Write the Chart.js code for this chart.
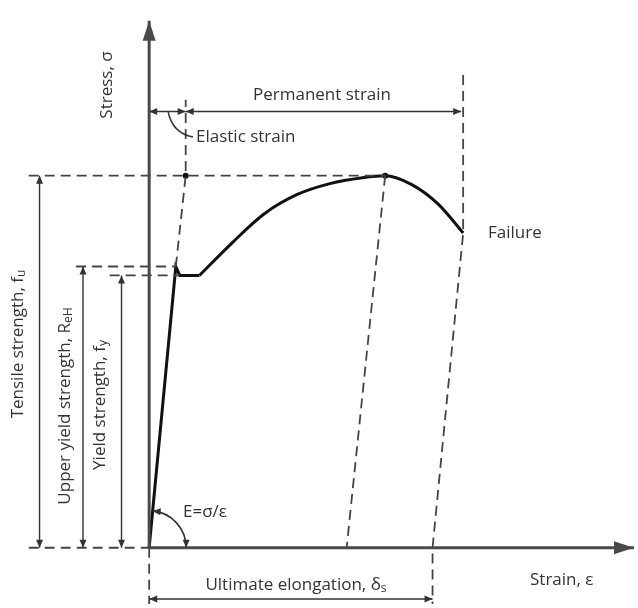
<!DOCTYPE html>
<html>
<head>
<meta charset="utf-8">
<script src="https://cdn.jsdelivr.net/npm/chart.js@4/dist/chart.umd.min.js"></script>
<style>
  body { margin: 0; background: #fff; }
  canvas { display: block; }
</style>
</head>
<body>
<canvas id="chart" width="638" height="608"></canvas>
<script>
// stress-strain curve, schematic units (strain on x, stress on y)
const elasticStrainPts = [0, 27, 31, 51]
const elasticStressPts = [0, 285, 276, 276]
const hardeningStrain = [51, 83, 116, 150, 183, 216, 239, 266, 293, 318]
const hardeningStress = [276, 308, 338, 358, 369, 375, 377, 368, 348, 319]

// characteristic values
const tensileStrength = 377
const upperYield = 285
const yieldStrength = 276
const strainAtTensile = 239
const elasticStrain = 37
const failureStrain = 318
const failureStress = 319
const residualAtTensile = 200
const ultimateElongation = 287

// layout of guides (schematic units)
const view = { xMin: -147, xMax: 491, yMin: -57, yMax: 551 }
const guide = {
  leftEnd: -122, upperLeft: -74, lowerLeft: -40,
  tensileArrowX: -111, upperArrowX: -67, yieldArrowX: -28,
  strainArrowY: 442, elongArrowY: -52,
  elasticTop: 454, failureTop: 479, yAxisTop: 534
}

const textColor = '#333'
const mainFont = '17px "Open Sans"'
const subFont = '12px "Open Sans"'

const pts = (xs, ys) => xs.map((x, i) => ({ x, y: ys[i] }))
const line = (data, width, color, extra) => ({
  data, showLine: true, borderColor: color, backgroundColor: color,
  borderWidth: width, pointRadius: 0, tension: 0, clip: false, ...extra
})
const dashed = data => line(data, 1.8, '#444', { borderDash: [10, 6] })
const arrow = (data, heads) => line(data, 1.4, '#333', { arrow: heads, head: [8, 3.5] })

const datasets = [
  // axes
  line([{ x: 0, y: 0 }, { x: 0, y: guide.yAxisTop }], 3, '#4a4a4a', { arrow: 'end', head: [20, 6.5] }),
  line([{ x: 0, y: 0 }, { x: view.xMax, y: 0 }], 3, '#4a4a4a', { arrow: 'end', head: [20, 6.5] }),

  // guide lines
  dashed([{ x: guide.leftEnd, y: tensileStrength }, { x: strainAtTensile, y: tensileStrength }]),
  dashed([{ x: guide.upperLeft, y: upperYield }, { x: elasticStrainPts[1], y: upperYield }]),
  dashed([{ x: guide.lowerLeft, y: yieldStrength }, { x: elasticStrainPts[2], y: yieldStrength }]),
  dashed([{ x: guide.leftEnd, y: 0 }, { x: 0, y: 0 }]),
  dashed([{ x: elasticStrainPts[1], y: upperYield }, { x: elasticStrain, y: tensileStrength }, { x: elasticStrain, y: guide.elasticTop }]),
  dashed([{ x: strainAtTensile, y: tensileStrength }, { x: residualAtTensile, y: 0 }]),
  dashed([{ x: failureStrain, y: guide.failureTop }, { x: failureStrain, y: failureStress }, { x: ultimateElongation, y: 0 }, { x: ultimateElongation, y: view.yMin }]),
  dashed([{ x: 0, y: 0 }, { x: 0, y: view.yMin }]),

  // dimension arrows
  arrow([{ x: guide.tensileArrowX, y: tensileStrength }, { x: guide.tensileArrowX, y: 0 }], 'both'),
  arrow([{ x: guide.upperArrowX, y: upperYield }, { x: guide.upperArrowX, y: 0 }], 'both'),
  arrow([{ x: guide.yieldArrowX, y: yieldStrength }, { x: guide.yieldArrowX, y: 0 }], 'both'),
  arrow([{ x: 0, y: guide.strainArrowY }, { x: elasticStrain, y: guide.strainArrowY }], 'both'),
  arrow([{ x: elasticStrain, y: guide.strainArrowY }, { x: failureStrain - 2, y: guide.strainArrowY }], 'both'),
  arrow([{ x: 0, y: guide.elongArrowY }, { x: ultimateElongation, y: guide.elongArrowY }], 'both'),

  // the curve
  line(pts(elasticStrainPts, elasticStressPts), 3, '#111'),
  line(pts(hardeningStrain, hardeningStress), 3, '#111', { tension: 0.4, cubicInterpolationMode: 'monotone' }),

  // markers at tensile strength
  { data: [{ x: elasticStrain, y: tensileStrength }, { x: strainAtTensile, y: tensileStrength }],
    showLine: false, pointRadius: 3, pointBackgroundColor: '#111', pointBorderWidth: 0, clip: false }
]

const arrowHeads = {
  id: 'arrowHeads',
  afterDatasetsDraw(chart) {
    const ctx = chart.ctx
    chart.data.datasets.forEach((ds, i) => {
      if (!ds.arrow) return
      const el = chart.getDatasetMeta(i).data
      const [len, half] = ds.head
      const head = (tip, from) => {
        const ang = Math.atan2(tip.y - from.y, tip.x - from.x)
        ctx.save()
        ctx.translate(tip.x, tip.y)
        ctx.rotate(ang)
        ctx.beginPath()
        ctx.moveTo(0, 0)
        ctx.lineTo(-len, -half)
        ctx.lineTo(-len, half)
        ctx.closePath()
        ctx.fillStyle = ds.borderColor
        ctx.fill()
        ctx.restore()
      }
      const a = el[0], b = el[el.length - 1]
      if (ds.arrow === 'both' || ds.arrow === 'start') head(a, b)
      if (ds.arrow === 'both' || ds.arrow === 'end') head(b, a)
    })
  }
}

function richText(ctx, parts, x, y, angle, align) {
  ctx.save()
  ctx.translate(x, y)
  ctx.rotate(angle)
  const widths = parts.map(p => { ctx.font = p.sub ? subFont : mainFont; return ctx.measureText(p.t).width })
  const total = widths.reduce((a, b) => a + b, 0)
  let cx = align === 'center' ? -total / 2 : 0
  ctx.textBaseline = 'middle'
  ctx.textAlign = 'left'
  ctx.fillStyle = textColor
  parts.forEach((p, i) => {
    ctx.font = p.sub ? subFont : mainFont
    ctx.fillText(p.t, cx, p.sub ? 4 : 0)
    cx += widths[i]
  })
  ctx.restore()
}

const annotations = {
  id: 'annotations',
  afterDraw(chart) {
    const ctx = chart.ctx
    const px = v => chart.scales.x.getPixelForValue(v)
    const py = v => chart.scales.y.getPixelForValue(v)
    const up = -Math.PI / 2

    // modulus arc
    const ox = px(0), oy = py(0), r = 37
    const a0 = Math.atan2(py(elasticStressPts[1]) - oy, px(elasticStrainPts[1]) - ox)
    ctx.save()
    ctx.strokeStyle = '#333'
    ctx.fillStyle = '#333'
    ctx.lineWidth = 1.6
    ctx.beginPath()
    ctx.arc(ox, oy, r, a0, 0)
    ctx.stroke()
    const tipHead = (tx, ty, dx, dy) => {
      const ang = Math.atan2(dy, dx)
      ctx.save()
      ctx.translate(tx, ty)
      ctx.rotate(ang)
      ctx.beginPath()
      ctx.moveTo(0, 0)
      ctx.lineTo(-8, -3.5)
      ctx.lineTo(-8, 3.5)
      ctx.closePath()
      ctx.fill()
      ctx.restore()
    }
    tipHead(ox + r * Math.cos(a0), oy + r * Math.sin(a0), Math.sin(a0), -Math.cos(a0))
    tipHead(ox + r, oy, 0, 1)

    // elastic strain leader
    ctx.lineWidth = 1.4
    ctx.beginPath()
    ctx.moveTo(168, 111)
    ctx.quadraticCurveTo(172, 133, 193, 137)
    ctx.stroke()
    ctx.restore()

    richText(ctx, [{ t: 'Stress, σ' }], 107, 85, up, 'center')
    richText(ctx, [{ t: 'Permanent strain' }], 322, 95, 0, 'center')
    richText(ctx, [{ t: 'Elastic strain' }], 196, 137, 0, 'left')
    richText(ctx, [{ t: 'Failure' }], 488, 233, 0, 'left')
    richText(ctx, [{ t: 'Tensile strength, f' }, { t: 'u', sub: true }], 18, 344, up, 'center')
    richText(ctx, [{ t: 'Upper yield strength, R' }, { t: 'eH', sub: true }], 65, 406, up, 'center')
    richText(ctx, [{ t: 'Yield strength, f' }, { t: 'y', sub: true }], 100, 405, up, 'center')
    richText(ctx, [{ t: 'E=σ/ε' }], 183, 512, 0, 'left')
    richText(ctx, [{ t: 'Ultimate elongation, δ' }, { t: 's', sub: true }], 296, 585, 0, 'center')
    richText(ctx, [{ t: 'Strain, ε' }], 530, 580, 0, 'left')
  }
}

new Chart(document.getElementById('chart'), {
  type: 'scatter',
  data: { datasets },
  options: {
    responsive: false,
    animation: false,
    layout: { padding: 0 },
    plugins: { legend: { display: false }, tooltip: { enabled: false } },
    scales: {
      x: { type: 'linear', display: false, min: view.xMin, max: view.xMax },
      y: { type: 'linear', display: false, min: view.yMin, max: view.yMax }
    }
  },
  plugins: [arrowHeads, annotations]
})
</script>
</body>
</html>
